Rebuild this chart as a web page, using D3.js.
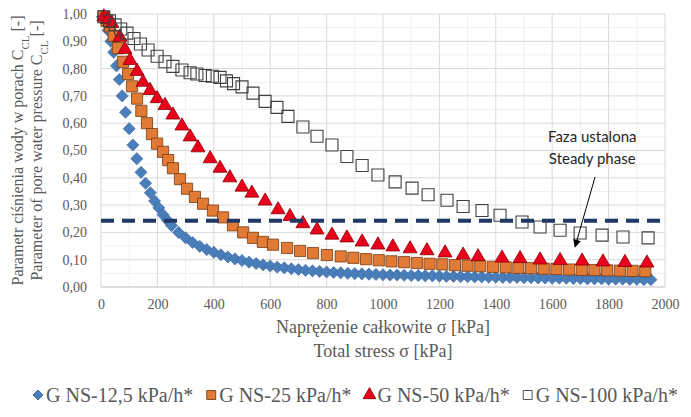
<!DOCTYPE html>
<html>
<head>
<meta charset="utf-8">
<script src="https://cdn.jsdelivr.net/npm/d3@7"></script>
<style>
  body { margin: 0; background: #fff; }
  svg { display: block; }
</style>
</head>
<body>
<div id="chart"></div>
<script>
// G NS-12,5 kPa/h*
var stress12 = [5, 15, 25, 35, 45, 55, 65, 75, 87, 100, 113, 127, 142, 158, 175, 190, 205, 220, 235, 250,
  275, 300, 325, 350, 375, 400, 425, 450, 475, 500, 525, 550, 575, 600, 625, 650, 675, 700, 725, 750,
  775, 800, 825, 850, 875, 900, 925, 950, 975, 1000, 1025, 1050, 1075, 1100, 1125, 1150, 1175, 1200,
  1225, 1250, 1275, 1300, 1325, 1350, 1375, 1400, 1425, 1450, 1475, 1500, 1525, 1550, 1575, 1600,
  1625, 1650, 1675, 1700, 1725, 1750, 1775, 1800, 1825, 1850, 1875, 1900, 1925, 1950];
var cp12 = [0.99, 0.97, 0.94, 0.90, 0.86, 0.81, 0.76, 0.70, 0.64, 0.58, 0.52, 0.47, 0.42, 0.38, 0.345, 0.315, 0.29, 0.265, 0.245, 0.225,
  0.20, 0.18, 0.163, 0.149, 0.137, 0.127, 0.118, 0.110, 0.103, 0.097, 0.091, 0.086, 0.081, 0.077, 0.073, 0.070, 0.067, 0.064, 0.061, 0.059,
  0.057, 0.055, 0.053, 0.052, 0.050, 0.049, 0.048, 0.047, 0.046, 0.045, 0.044, 0.044, 0.043, 0.042, 0.042, 0.041, 0.041, 0.040,
  0.039, 0.039, 0.038, 0.038, 0.037, 0.037, 0.036, 0.036, 0.035, 0.035, 0.035, 0.034, 0.034, 0.033, 0.033, 0.032,
  0.032, 0.032, 0.031, 0.031, 0.030, 0.030, 0.030, 0.029, 0.029, 0.029, 0.028, 0.028, 0.027, 0.027];

// G NS-25 kPa/h*
var stress25 = [10, 20, 32, 45, 60, 78, 96, 110, 128, 143, 163, 181, 199, 220, 238, 255, 280, 305, 333, 362,
  397, 433, 468, 504, 539, 574, 610, 660, 706, 752, 801, 850, 895, 940, 985, 1030, 1075, 1120, 1165, 1210,
  1255, 1300, 1345, 1390, 1435, 1480, 1525, 1570, 1615, 1660, 1705, 1750, 1795, 1840, 1885, 1930];
var cp25 = [0.99, 0.975, 0.955, 0.92, 0.875, 0.825, 0.78, 0.735, 0.69, 0.645, 0.60, 0.56, 0.525, 0.495, 0.465, 0.435, 0.395, 0.36, 0.33, 0.305,
  0.28, 0.255, 0.226, 0.20, 0.18, 0.165, 0.155, 0.143, 0.132, 0.124, 0.117, 0.112, 0.107, 0.102, 0.098, 0.094, 0.091, 0.088, 0.085, 0.083,
  0.080, 0.078, 0.076, 0.074, 0.072, 0.070, 0.069, 0.067, 0.066, 0.064, 0.063, 0.062, 0.061, 0.060, 0.059, 0.058];

// G NS-50 kPa/h*
var stress50 = [10, 25, 39, 67, 85, 103, 128, 149, 174, 199, 227, 255, 287, 316, 344, 387, 422, 457, 500, 535,
  582, 628, 670, 716, 766, 819, 872, 926, 982, 1035, 1096, 1156, 1220, 1284, 1337, 1422, 1486, 1557, 1628, 1706,
  1780, 1858, 1936];
var cp50 = [0.99, 0.98, 0.965, 0.915, 0.87, 0.83, 0.79, 0.75, 0.72, 0.69, 0.665, 0.63, 0.59, 0.55, 0.51, 0.47, 0.435, 0.40, 0.366, 0.344,
  0.315, 0.283, 0.258, 0.232, 0.209, 0.19, 0.18, 0.165, 0.154, 0.147, 0.14, 0.133, 0.125, 0.117, 0.111, 0.106, 0.104, 0.099, 0.097, 0.095,
  0.092, 0.090, 0.088];

// G NS-100 kPa/h*
var stress100 = [10, 30, 50, 70, 92, 117, 140, 167, 199, 227, 255, 287, 316, 340, 369, 395, 422, 445, 470, 500,
  539, 582, 624, 663, 716, 766, 819, 872, 926, 982, 1043, 1103, 1160, 1227, 1284, 1351, 1415, 1493, 1557, 1628,
  1699, 1777, 1851, 1940];
var cp100 = [0.99, 0.975, 0.96, 0.945, 0.93, 0.91, 0.89, 0.868, 0.845, 0.825, 0.808, 0.795, 0.785, 0.78, 0.775, 0.772, 0.768, 0.755, 0.745, 0.733,
  0.71, 0.68, 0.658, 0.625, 0.586, 0.552, 0.52, 0.478, 0.445, 0.41, 0.385, 0.362, 0.338, 0.318, 0.295, 0.28, 0.263, 0.238, 0.22, 0.208,
  0.198, 0.19, 0.183, 0.18];

var seriesNames = ["G NS-12,5 kPa/h*", "G NS-25 kPa/h*", "G NS-50 kPa/h*", "G NS-100 kPa/h*"];
var xTicks = [0, 200, 400, 600, 800, 1000, 1200, 1400, 1600, 1800, 2000];
var yTicks = [0, 0.1, 0.2, 0.3, 0.4, 0.5, 0.6, 0.7, 0.8, 0.9, 1.0];
var steadyLevel = 0.243;

var W = 691, H = 417;
var margin = { top: 14, right: 26, bottom: 130, left: 101 };

var svg = d3.select("#chart").append("svg")
  .attr("width", W)
  .attr("height", H)
  .style("background", "#fff");

var x = d3.scaleLinear().domain([0, 2000]).range([margin.left, W - margin.right]);
var y = d3.scaleLinear().domain([0, 1]).range([H - margin.bottom, margin.top]);

var serif = "'Liberation Serif', 'Times New Roman', serif";
var grey = "#595959";

// minor grid
var minorX = d3.range(100, 2000, 200);
var minorY = d3.range(0.05, 1, 0.1);
svg.append("g").selectAll("line").data(minorX).enter().append("line")
  .attr("x1", d => x(d)).attr("x2", d => x(d))
  .attr("y1", y(0)).attr("y2", y(1))
  .attr("stroke", "#f0f0f0").attr("stroke-width", 1);
svg.append("g").selectAll("line").data(minorY).enter().append("line")
  .attr("x1", x(0)).attr("x2", x(2000))
  .attr("y1", d => y(d)).attr("y2", d => y(d))
  .attr("stroke", "#f0f0f0").attr("stroke-width", 1);

// major grid
svg.append("g").selectAll("line").data(xTicks).enter().append("line")
  .attr("x1", d => x(d)).attr("x2", d => x(d))
  .attr("y1", y(0)).attr("y2", y(1))
  .attr("stroke", "#d9d9d9").attr("stroke-width", 1);
svg.append("g").selectAll("line").data(yTicks).enter().append("line")
  .attr("x1", x(0)).attr("x2", x(2000))
  .attr("y1", d => y(d)).attr("y2", d => y(d))
  .attr("stroke", d => d === 0 ? "#bfbfbf" : "#d9d9d9").attr("stroke-width", 1);

// axes
var fmtY = d => d3.format(".2f")(d).replace(".", ",");
var gy = svg.append("g")
  .attr("transform", "translate(" + x(0) + ",0)")
  .call(d3.axisLeft(y).tickValues(yTicks).tickSize(0).tickPadding(14).tickFormat(fmtY));
var gx = svg.append("g")
  .attr("transform", "translate(0," + y(0) + ")")
  .call(d3.axisBottom(x).tickValues(xTicks).tickSize(0).tickPadding(12).tickFormat(d3.format("d")));
[gx, gy].forEach(function(g) {
  g.attr("font-family", null);
  g.select(".domain").remove();
  g.selectAll("text").style("font-family", serif).style("font-size", "14px").attr("fill", grey);
});

// series
function pts(xs, ys) { return xs.map((v, i) => ({ s: v, c: ys[i] })); }

svg.append("g").selectAll("path").data(pts(stress12, cp12)).enter().append("path")
  .attr("d", d3.symbol(d3.symbolSquare, 74))
  .attr("transform", d => "translate(" + x(d.s) + "," + y(d.c) + ") rotate(45)")
  .attr("fill", "#4a7ebb").attr("stroke", "#3d6a9e").attr("stroke-width", 0.6);

svg.append("g").selectAll("path").data(pts(stress25, cp25)).enter().append("path")
  .attr("d", d3.symbol(d3.symbolSquare, 125))
  .attr("transform", d => "translate(" + x(d.s) + "," + y(d.c) + ")")
  .attr("fill", "#e07a34").attr("stroke", "#7a3a12").attr("stroke-width", 0.8);

svg.append("g").selectAll("path").data(pts(stress50, cp50)).enter().append("path")
  .attr("d", d3.symbol(d3.symbolTriangle, 85))
  .attr("transform", d => "translate(" + x(d.s) + "," + y(d.c) + ")")
  .attr("fill", "#e8001c").attr("stroke", "#8b0000").attr("stroke-width", 0.8);

svg.append("g").selectAll("path").data(pts(stress100, cp100)).enter().append("path")
  .attr("d", d3.symbol(d3.symbolSquare, 144))
  .attr("transform", d => "translate(" + x(d.s) + "," + y(d.c) + ")")
  .attr("fill", "none").attr("stroke", "#404040").attr("stroke-width", 1.1);

// steady phase dashed line
svg.append("line")
  .attr("x1", x(0)).attr("x2", x(2000))
  .attr("y1", y(steadyLevel)).attr("y2", y(steadyLevel))
  .attr("stroke", "#1f3864").attr("stroke-width", 4)
  .attr("stroke-dasharray", "13,8");

// annotation
svg.append("defs").append("marker")
  .attr("id", "arr").attr("viewBox", "0 0 10 10")
  .attr("refX", 9).attr("refY", 5)
  .attr("markerWidth", 8).attr("markerHeight", 8)
  .attr("orient", "auto")
  .append("path").attr("d", "M0,0L10,5L0,10Z").attr("fill", "#000");
svg.append("line")
  .attr("x1", x(1752)).attr("y1", y(0.403))
  .attr("x2", x(1681)).attr("y2", y(0.147))
  .attr("stroke", "#000").attr("stroke-width", 1)
  .attr("marker-end", "url(#arr)");
var ann = svg.append("text")
  .attr("text-anchor", "middle")
  .style("font-family", "Lato, 'Open Sans', sans-serif")
  .style("font-size", "15px")
  .attr("fill", "#262626");
ann.append("tspan").attr("x", x(1742)).attr("y", y(0.55) + 5).text("Faza ustalona");
ann.append("tspan").attr("x", x(1742)).attr("y", y(0.47) + 5).text("Steady phase");

// axis titles
var ytitle = svg.append("text")
  .attr("transform", "translate(0," + y(0.5) + ") rotate(-90)")
  .attr("text-anchor", "middle")
  .style("font-family", serif).style("font-size", "16px").attr("fill", grey);
var t1 = ytitle.append("tspan").attr("x", 0).attr("y", 23);
t1.append("tspan").text("Parametr ciśnienia wody w porach C");
t1.append("tspan").attr("baseline-shift", "sub").style("font-size", "11px").text("CL");
t1.append("tspan").text(" [-]");
var t2 = ytitle.append("tspan").attr("x", 0).attr("y", 42);
t2.append("tspan").text("Parameter of pore water pressure C");
t2.append("tspan").attr("baseline-shift", "sub").style("font-size", "11px").text("CL");
t2.append("tspan").text(" [-]");

var xtitle = svg.append("text")
  .attr("text-anchor", "middle")
  .style("font-family", serif).style("font-size", "18px").attr("fill", grey);
xtitle.append("tspan").attr("x", x(1000)).attr("y", 333).text("Naprężenie całkowite σ [kPa]");
xtitle.append("tspan").attr("x", x(1000)).attr("y", 357).text("Total stress σ [kPa]");

// legend
var legY = 396;
var legend = svg.append("g");
var lx = 32;
var legendMarks = [
  { sym: d3.symbolSquare, size: 50, rot: 45, fill: "#4a7ebb", stroke: "#3d6a9e" },
  { sym: d3.symbolSquare, size: 80, rot: 0, fill: "#e07a34", stroke: "#7a3a12" },
  { sym: d3.symbolTriangle, size: 70, rot: 0, fill: "#e8001c", stroke: "#8b0000" },
  { sym: d3.symbolSquare, size: 80, rot: 0, fill: "none", stroke: "#404040" }
];
seriesNames.forEach(function(name, i) {
  var m = legendMarks[i];
  legend.append("path")
    .attr("d", d3.symbol(m.sym, m.size))
    .attr("transform", "translate(" + (lx + 6) + "," + (legY - 1) + ") rotate(" + m.rot + ")")
    .attr("fill", m.fill).attr("stroke", m.stroke).attr("stroke-width", 0.9);
  var t = legend.append("text")
    .attr("x", lx + 14).attr("y", legY + 6)
    .style("font-family", serif).style("font-size", "20px").attr("fill", grey)
    .text(name);
  lx += 14 + t.node().getComputedTextLength() + 12;
});
</script>
</body>
</html>
